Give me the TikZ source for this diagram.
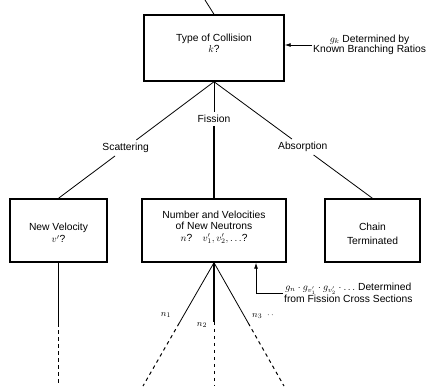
\documentclass[tikz,border=0pt]{standalone}
\usepackage{fontspec}
\setmainfont{Liberation Sans}
\usetikzlibrary{arrows.meta,calc}

\begin{document}
\begin{tikzpicture}[x=1pt,y=-1pt,
  every node/.style={font=\fontsize{10.3}{10.5}\selectfont, align=center},
  box/.style={draw, line width=1.4pt, minimum width=#1, minimum height=63pt, inner sep=0pt},
  boxtext/.style={inner sep=0pt},
  branch/.style={inner sep=3pt},
  link/.style={line width=0.8pt},
  heavy/.style={line width=1.3pt},
  cont/.style={line width=1pt, dash pattern=on 3.5pt off 3.5pt},
  note/.style={inner sep=1pt},
  pointer/.style={line width=0.8pt, -{Latex[length=6pt,width=4pt]}},
  tag/.style={font=\fontsize{9.5}{10}\selectfont, inner sep=0pt}
]
\useasboundingbox (0,0) rectangle (430,386);

% decision boxes
\node[box=140pt, minimum height=66pt] (top) at (214,48) {};
\node[boxtext, font=\fontsize{10.3}{11}\selectfont] at (214,43) {Type of Collision\\$k$?};

\node[box=97pt] (left) at (58.5,230.5) {};
\node[boxtext, font=\fontsize{10.3}{12}\selectfont] at (58.5,233) {New Velocity\\$v'$?};

\node[box=144pt] (mid) at (214,230.5) {};
\node[boxtext, font=\fontsize{10.3}{11.5}\selectfont] at (214,227.5)
  {Number and Velocities\\of New Neutrons\\$n$?\quad$v_1', v_2', \ldots$?};

\node[box=95pt] (right) at (372.5,230.5) {};
\node[boxtext, font=\fontsize{10.3}{14}\selectfont] at (372.5,234) {Chain\\Terminated};

% incoming branch from above
\coordinate (src) at (205,0);
\draw[link] (src) -- (top.north);

% branch labels placed on the connector lines
\path (top.south) -- (left.north) node[pos=.568, branch] (scat) {Scattering};
\path (top.south) -- (mid.north) node[pos=.32, branch] (fis) {Fission};
\path (top.south) -- (right.north) node[pos=.56, branch] (abs) {Absorption};

\draw[link] (top.south) -- (scat);
\draw[link] (scat) -- (left.north);
\draw[link] (top.south) -- (fis);
\draw[heavy] (fis) -- (mid.north);
\draw[link] (top.south) -- (abs);
\draw[link] (abs) -- (right.north);

% annotations with arrows
\node[note, anchor=west] (gk) at (312,45) {$g_k$ Determined by\\Known Branching Ratios};
\draw[pointer] (gk.west) -- (gk.west -| top.east);

\node[note, anchor=west, font=\fontsize{10.3}{12.5}\selectfont] (gx) at (283,293)
  {$g_n\cdot g_{v_1'}\cdot g_{v_2'}\cdot\ldots$ Determined\\from Fission Cross Sections};
\coordinate (gxc) at (256,293);
\draw[pointer] (gx.west) -- (gxc) -- (gxc |- mid.south);

% continuation below the scattering box
\coordinate (lend) at (58.5,386);
\coordinate (lmid) at (58.5,323);
\draw[heavy] (left.south) -- (lmid);
\draw[cont] (lmid) -- (lend);

% fan of new neutrons
\coordinate (f1end) at (143,386);
\coordinate (f2end) at (214,386);
\coordinate (f3end) at (284,386);
\draw[link] (mid.south) -- ($(mid.south)!0.49!(f1end)$) coordinate (f1);
\draw[cont] (f1) -- (f1end);
\draw[heavy] (mid.south) -- ($(mid.south)!0.48!(f2end)$) coordinate (f2);
\draw[cont] (f2) -- (f2end);
\draw[link] (mid.south) -- ($(mid.south)!0.49!(f3end)$) coordinate (f3);
\draw[cont] (f3) -- (f3end);

\node[tag] (n1) at (166,315) {$n_1$};
\node[tag] (n2) at (202,325) {$n_2$};
\node[tag, anchor=west] (n3) at (252,316) {$n_3$\enspace$\cdot\,\cdot$};
\end{tikzpicture}
\end{document}
